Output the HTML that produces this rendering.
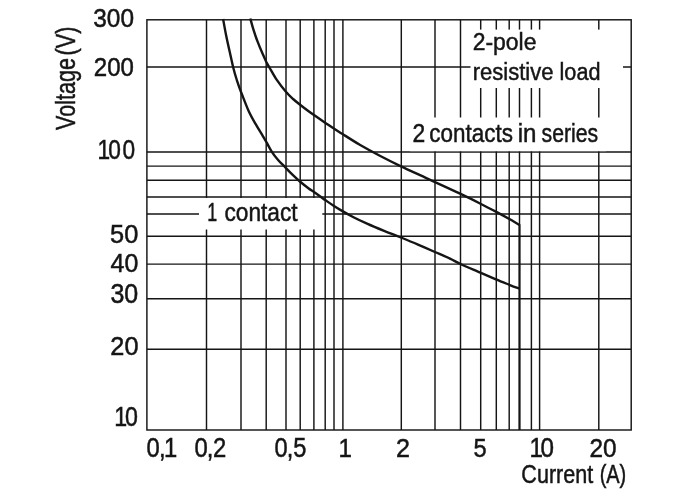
<!DOCTYPE html>
<html lang="en"><head><meta charset="utf-8"><title>Load limit curve</title>
<style>html,body{margin:0;padding:0;background:#fff}svg{display:block}text{font-family:"Liberation Sans", sans-serif;fill:#151515;stroke:#151515;stroke-width:0.5px;word-spacing:0px}</style></head><body>
<svg width="697" height="496" viewBox="0 0 697 496">
<rect width="697" height="496" fill="#fff"/>
<g stroke="#151515" stroke-width="1.45" fill="none">
<line x1="206.5" y1="19.8" x2="206.5" y2="430.0"/>
<line x1="241.0" y1="19.8" x2="241.0" y2="430.0"/>
<line x1="266.2" y1="19.8" x2="266.2" y2="430.0"/>
<line x1="286.0" y1="19.8" x2="286.0" y2="430.0"/>
<line x1="300.2" y1="19.8" x2="300.2" y2="430.0"/>
<line x1="313.9" y1="19.8" x2="313.9" y2="430.0"/>
<line x1="325.2" y1="19.8" x2="325.2" y2="430.0"/>
<line x1="334.0" y1="19.8" x2="334.0" y2="430.0"/>
<line x1="342.9" y1="19.8" x2="342.9" y2="430.0"/>
<line x1="401.3" y1="19.8" x2="401.3" y2="430.0"/>
<line x1="435.0" y1="19.8" x2="435.0" y2="430.0"/>
<line x1="460.5" y1="19.8" x2="460.5" y2="430.0"/>
<line x1="480.7" y1="19.8" x2="480.7" y2="430.0"/>
<line x1="496.3" y1="19.8" x2="496.3" y2="430.0"/>
<line x1="509.2" y1="19.8" x2="509.2" y2="430.0"/>
<line x1="519.5" y1="19.8" x2="519.5" y2="430.0"/>
<line x1="531.4" y1="19.8" x2="531.4" y2="430.0"/>
<line x1="539.6" y1="19.8" x2="539.6" y2="430.0"/>
<line x1="598.8" y1="19.8" x2="598.8" y2="430.0"/>
<line x1="146.9" y1="67.0" x2="631.2" y2="67.0"/>
<line x1="146.9" y1="152.0" x2="631.2" y2="152.0"/>
<line x1="146.9" y1="166.1" x2="631.2" y2="166.1"/>
<line x1="146.9" y1="180.2" x2="631.2" y2="180.2"/>
<line x1="146.9" y1="197.0" x2="631.2" y2="197.0"/>
<line x1="146.9" y1="214.0" x2="631.2" y2="214.0"/>
<line x1="146.9" y1="236.2" x2="631.2" y2="236.2"/>
<line x1="146.9" y1="264.1" x2="631.2" y2="264.1"/>
<line x1="146.9" y1="298.7" x2="631.2" y2="298.7"/>
<line x1="146.9" y1="349.3" x2="631.2" y2="349.3"/>
</g>
<rect x="199.0" y="198.0" width="123.3" height="31.5" fill="#fff"/>
<rect x="470.5" y="29.6" width="152.5" height="58.4" fill="#fff"/>
<rect x="410.0" y="117.5" width="196.0" height="33.7" fill="#fff"/>
<rect x="146.9" y="19.8" width="484.3" height="410.2" fill="none" stroke="#151515" stroke-width="1.45"/>
<g stroke="#151515" stroke-width="2.4" fill="none" stroke-linejoin="miter" stroke-linecap="butt">
<path d="M250.3,18.5C250.8,20.3 252.1,25.3 253.3,29.1C254.5,32.9 255.9,37.2 257.4,41.2C258.9,45.2 260.9,49.9 262.4,53.3C263.9,56.7 265.1,59.4 266.2,61.8C267.4,64.2 267.7,64.6 269.5,67.6C271.3,70.6 274.1,75.9 276.8,79.9C279.5,83.9 283.1,88.5 285.9,91.7C288.6,94.9 290.7,96.8 293.1,99.0C295.5,101.2 298.0,103.1 300.4,105.0C302.8,106.9 305.3,108.8 307.6,110.5C309.9,112.2 311.0,113.0 314.0,115.1C317.0,117.2 322.5,121.0 325.8,123.2C329.1,125.4 331.0,126.7 333.9,128.5C336.8,130.3 338.6,131.6 343.0,134.3C347.4,137.1 354.0,141.4 360.2,145.0C366.4,148.6 373.4,152.4 380.3,156.0C387.2,159.6 394.8,163.4 401.5,166.6C408.2,169.8 415.0,172.8 420.6,175.4C426.2,178.0 428.4,179.1 435.0,182.1C441.6,185.1 452.5,190.1 460.1,193.7C467.7,197.3 474.5,200.7 480.5,203.7C486.5,206.7 491.6,209.4 496.3,211.9C501.0,214.4 505.0,216.6 508.9,218.8C512.8,221.0 517.7,224.0 519.5,225.0"/>
<path d="M223.1,19.0C223.6,21.7 225.0,29.8 226.1,35.2C227.2,40.6 228.4,46.0 229.6,51.3C230.8,56.6 231.9,62.2 233.1,67.0C234.3,71.8 235.4,75.7 236.8,80.0C238.2,84.3 239.2,87.4 241.3,92.7C243.4,98.0 246.7,106.8 249.1,112.1C251.5,117.3 253.4,120.2 255.7,124.2C258.0,128.2 261.2,133.3 263.0,136.3C264.8,139.3 264.9,139.4 266.4,142.0C267.8,144.6 269.8,148.6 271.7,151.6C273.6,154.6 275.8,157.3 278.1,160.0C280.4,162.7 283.2,165.2 285.6,167.7C288.0,170.2 290.3,172.6 292.7,174.9C295.1,177.2 297.3,179.3 299.9,181.5C302.5,183.7 306.0,186.4 308.4,188.2C310.8,190.0 311.9,190.6 314.0,192.1C316.1,193.6 319.1,195.7 321.0,197.0C322.9,198.3 323.1,198.6 325.3,200.1C327.5,201.6 331.1,204.1 334.0,206.0C336.9,207.9 339.6,209.5 342.9,211.4C346.1,213.3 349.4,215.1 353.5,217.2C357.6,219.3 362.5,221.6 367.6,223.9C372.7,226.2 378.5,228.6 384.1,230.9C389.7,233.2 395.4,235.2 401.0,237.5C406.6,239.8 412.4,242.2 418.0,244.6C423.6,247.0 429.6,249.7 434.9,252.0C440.2,254.3 445.7,256.6 450.0,258.6C454.3,260.6 455.4,261.6 460.5,264.0C465.6,266.4 475.0,270.3 480.9,272.9C486.8,275.4 491.3,277.3 496.0,279.3C500.7,281.3 505.4,283.2 509.3,284.8C513.2,286.4 517.8,288.0 519.5,288.6"/>
<line x1="519.5" y1="224.2" x2="519.5" y2="430.0" stroke-width="2.0"/>
</g>
<text transform="translate(93.30,27.40) scale(0.9389,1.0137)" font-size="26">300</text>
<text transform="translate(93.87,75.80) scale(0.9253,1.0137)" font-size="26">200</text>
<text transform="translate(110.07,242.80) scale(0.9761,1.0247)" font-size="26">50</text>
<text transform="translate(110.56,271.50) scale(0.9586,0.9973)" font-size="26">40</text>
<text transform="translate(110.48,302.70) scale(0.9615,1.0521)" font-size="26">30</text>
<text transform="translate(110.33,354.70) scale(0.9741,1.0192)" font-size="26">20</text>
<text transform="translate(395.93,457.00) scale(0.9680,1.0082)" font-size="26">2</text>
<text transform="translate(473.52,457.00) scale(0.9098,1.0082)" font-size="26">5</text>
<text transform="translate(589.46,457.00) scale(0.9370,1.0082)" font-size="26">20</text>
<text transform="translate(521.37,482.50) scale(0.8292,0.9730)" font-size="26">Current</text>
<text transform="translate(599.64,482.50) scale(0.7688,0.9730)" font-size="26">(A)</text>
<text transform="translate(207.19,220.60) scale(0.6894,0.9833)" font-size="26">1</text>
<text transform="translate(224.45,220.60) scale(0.8733,0.9833)" font-size="26">contact</text>
<text transform="translate(472.72,50.40) scale(0.8826,0.9421)" font-size="26">2-pole</text>
<text transform="translate(472.73,80.00) scale(0.8473,0.9474)" font-size="26">resistive</text>
<text transform="translate(559.55,80.00) scale(0.8324,0.9474)" font-size="26">load</text>
<text transform="translate(412.42,141.80) scale(0.8800,0.9808)" font-size="26">2</text>
<text transform="translate(429.35,141.80) scale(0.8630,0.9808)" font-size="26">contacts</text>
<text transform="translate(517.71,141.80) scale(0.9275,0.9808)" font-size="26">in</text>
<text transform="translate(541.59,141.80) scale(0.8161,0.9808)" font-size="26">series</text>
<text transform="translate(0,159.10) scale(0.8731,1.0356)" font-size="26"><tspan x="111.75">1</tspan><tspan x="123.95">0</tspan><tspan x="140.27">0</tspan></text>
<text transform="translate(0,426.20) scale(0.8923,1.0301)" font-size="26"><tspan x="127.97">1</tspan><tspan x="140.12">0</tspan></text>
<text transform="translate(0,457.00) scale(0.9154,1.0301)" font-size="26"><tspan x="160.17">0</tspan><tspan x="173.79">,</tspan><tspan x="179.03">1</tspan></text>
<text transform="translate(0,457.00) scale(0.9178,1.0301)" font-size="26"><tspan x="211.84">0</tspan><tspan x="225.30">,</tspan><tspan x="232.11">2</tspan></text>
<text transform="translate(0,457.00) scale(0.9087,1.0301)" font-size="26"><tspan x="302.06">0</tspan><tspan x="315.62">,</tspan><tspan x="322.66">5</tspan></text>
<text transform="translate(0,457.00) scale(0.9300,1.0192)" font-size="26"><tspan x="363.87">1</tspan></text>
<text transform="translate(0,457.00) scale(0.9308,1.0301)" font-size="26"><tspan x="568.93">1</tspan><tspan x="580.60">0</tspan></text>
<text transform="translate(75.20,129.89) rotate(-90) scale(0.8302,1.0389)" font-size="26">Voltage</text>
<text transform="translate(75.20,55.44) rotate(-90) scale(0.8344,1.0389)" font-size="26">(V)</text>
</svg></body></html>
